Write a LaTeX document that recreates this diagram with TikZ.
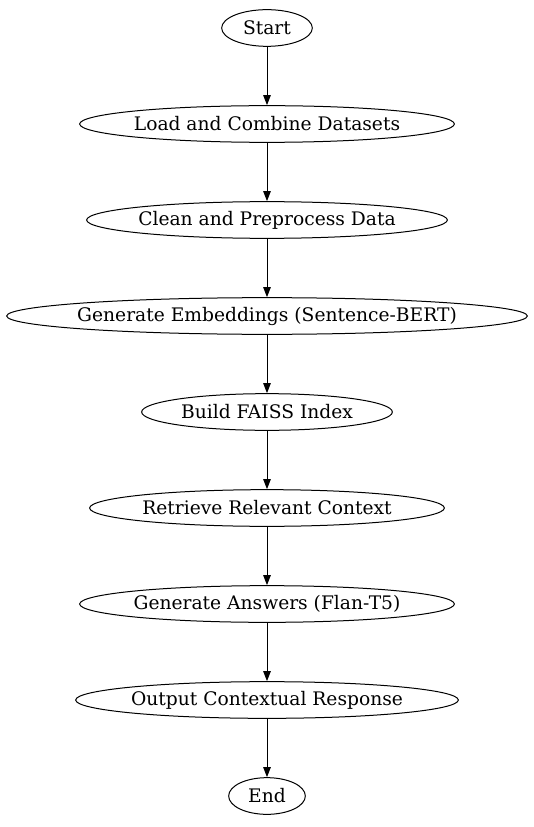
\documentclass[tikz,border=0pt]{standalone}
\usepackage{fontspec}
\setmainfont{DejaVu Serif}
\usepackage{tikz}
\usetikzlibrary{arrows.meta, shapes.geometric}

\tikzset{
	flowbox/.style={draw, ellipse, line width=0.75pt, inner xsep=-20pt, inner ysep=0pt, minimum height=27.5pt, font=\fontsize{14}{16}\selectfont},
	flowarrow/.style={line width=0.75pt, -{Triangle[length=7.5pt,width=5.6pt]}}
}

\begin{document}
\begin{tikzpicture}[x=0.75pt, y=-0.75pt]
	\useasboundingbox (0,0) rectangle (534,827);
	\node[flowbox, minimum width=68pt] (start) at (267,28) {Start};
	\node[flowbox, minimum width=281pt] (load) at (267,124) {Load and Combine Datasets};
	\node[flowbox, minimum width=270.5pt] (clean) at (267,220) {Clean and Preprocess Data};
	\node[flowbox, minimum width=390.5pt] (embed) at (267,316) {Generate Embeddings (Sentence-BERT)};
	\node[flowbox, minimum width=188pt] (faiss) at (267,412) {Build FAISS Index};
	\node[flowbox, minimum width=266pt] (retrieve) at (267,508) {Retrieve Relevant Context};
	\node[flowbox, minimum width=281pt] (answer) at (267,604) {Generate Answers (Flan-T5)};
	\node[flowbox, minimum width=287pt] (output) at (267,700) {Output Contextual Response};
	\node[flowbox, minimum width=57.5pt] (end) at (267,796) {End};
	% main pipeline
	\draw[flowarrow] (start) -- (load);
	\draw[flowarrow] (load) -- (clean);
	\draw[flowarrow] (clean) -- (embed);
	\draw[flowarrow] (embed) -- (faiss);
	\draw[flowarrow] (faiss) -- (retrieve);
	\draw[flowarrow] (retrieve) -- (answer);
	\draw[flowarrow] (answer) -- (output);
	\draw[flowarrow] (output) -- (end);
\end{tikzpicture}
\end{document}
